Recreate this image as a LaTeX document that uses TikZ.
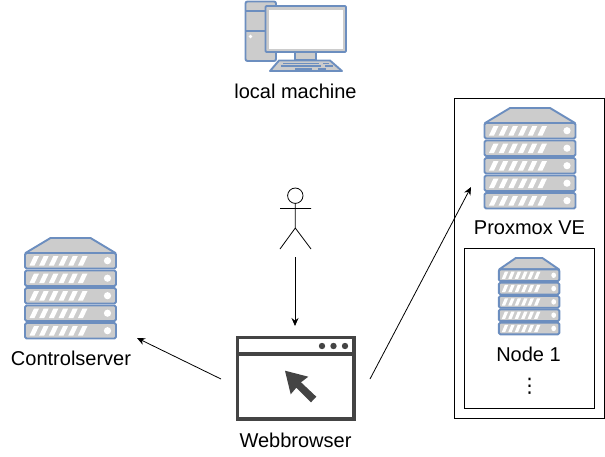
\documentclass[tikz,border=0pt]{standalone}
\usepackage{fontspec}
\setmainfont{Liberation Sans}
\newfontfamily\symbolfont{DejaVu Sans}
\usetikzlibrary{arrows.meta}
\definecolor{iconblue}{HTML}{6C8EBF}
\definecolor{icongray}{HTML}{CCCCCC}
\definecolor{icondark}{HTML}{444444}
\tikzset{
	label/.style={anchor=base,inner sep=0pt,font=\fontsize{20}{24}\selectfont},
	frame/.style={draw=black,line width=0.8pt},
	conn/.style={draw=black,line width=0.8pt,-{Stealth[length=8pt,width=7pt]}},
	part/.style={draw=iconblue,fill=icongray,line width=1.9pt,line join=round},
	server/.pic={
		\draw[part] (1,15) -- (26,0) -- (66,0) -- (91,15) -- cycle;
		\foreach \y in {15,32.5,50,67.5,85}{
			\draw[part,rounded corners=1.5pt] (0.5,\y) rectangle (91.5,\y+15.5);
			\foreach \i in {0,...,5}{
				\fill[white] (5+\i*9.7,\y+12.5) -- (9.5+\i*9.7,\y+3) -- (14.5+\i*9.7,\y+3) -- (10+\i*9.7,\y+12.5) -- cycle;
			}
			\fill[white] (83,\y+7.7) circle (3.6);
		}
	},
}
\begin{document}
\begin{tikzpicture}[x=1pt,y=-1pt]
	\useasboundingbox (0,0) rectangle (605,456);
	% frames on the right
	\draw[frame] (454.5,98.5) rectangle (604.5,418);
	\draw[frame] (464.5,248.5) rectangle (594.5,408);
	% servers
	\pic at (484,108) {server};
	\pic at (24.5,238) {server};
	\pic[xscale=0.665,yscale=0.76] at (498.5,258) {server};
	% local machine
	\draw[part,rounded corners=2pt] (245.5,1.5) rectangle (276,61);
	\draw[part] (245.5,11) -- (276,11);
	\draw[part] (245.5,31) -- (276,31);
	\fill[white] (250.5,36.5) circle (1.8);
	\draw[part] (295,52) rectangle (316,60);
	\draw[part,fill=icongray,rounded corners=1pt] (265.5,6) rectangle (346,52);
	\fill[white] (269,9.5) rectangle (342.5,48.5);
	\draw[part] (279,60.5) -- (330,60.5) -- (342,71) -- (270,71) -- cycle;
	\draw[iconblue,line width=1.5pt] (283,63.5) -- (319,63.5) (323,63.5) -- (329,63.5);
	\draw[iconblue,line width=1.5pt] (281,66) -- (321,66) (325,66) -- (333,66);
	\draw[iconblue,line width=1.5pt] (295,69) -- (312,69) (318,69) -- (326,69);
	% person
	\draw[black,line width=0.8pt] (295.3,195.7) circle (7.7);
	\draw[black,line width=0.8pt] (295.3,203.4) -- (295.3,228) (280,208.5) -- (311,208.5) (280,249) -- (295.3,228) -- (311,249);
	% webbrowser
	\draw[icondark,line width=3.6pt] (237.5,337.5) rectangle (354,419);
	\draw[icondark,line width=3.2pt] (237.5,354) -- (354,354);
	\foreach \x in {322,333.5,345}{
		\fill[icondark] (\x,346) circle (3.2);
	}
	\fill[icondark] (285,370.7) -- (308.3,376.7) -- (301,382.3) -- (316.3,396.7) -- (311,402.3) -- (296.3,387.7) -- (290.7,394.3) -- cycle;
	% labels
	\node[label] (localmachine) at (295.5,98) {local machine};
	\node[label] (proxmox) at (529.5,234.5) {Proxmox VE};
	\node[label] (node1) at (528.5,361) {Node 1};
	\node[label,font=\fontsize{20}{24}\selectfont\symbolfont] (dots) at (529.5,392) {⋮};
	\node[label] (controlserver) at (71,365) {Controlserver};
	\node[label] (webbrowser) at (295.5,447) {Webbrowser};
	% arrows
	\coordinate (personfoot) at (295,257);
	\coordinate (browsertop) at (295,326);
	\coordinate (browserleft) at (221,379);
	\coordinate (controlfoot) at (137,338);
	\coordinate (browserright) at (370,379);
	\coordinate (proxmoxside) at (471,187);
	\draw[conn] (personfoot) -- (browsertop);
	\draw[conn] (browserleft) -- (controlfoot);
	\draw[conn] (browserright) -- (proxmoxside);
\end{tikzpicture}
\end{document}
